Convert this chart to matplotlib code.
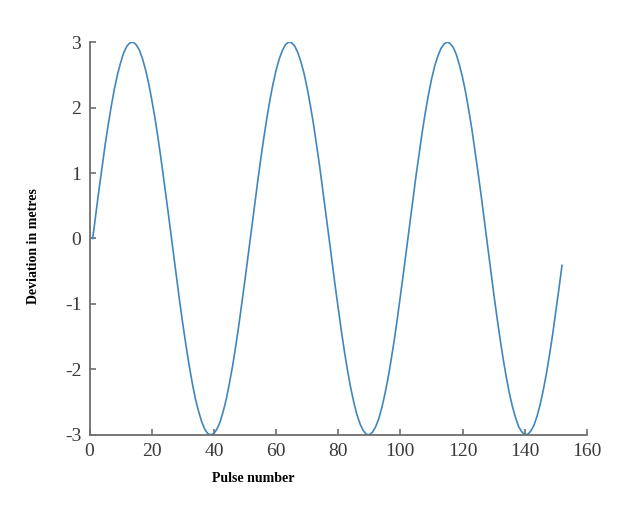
import numpy as np
import matplotlib
matplotlib.use("Agg")
import matplotlib.pyplot as plt

# pulse numbers and deviation (metres)
pulses = list(range(1, 153))
deviation = [
    0.00, 0.37, 0.74, 1.09, 1.43, 1.74, 2.03, 2.29, 2.51, 2.69,
    2.84, 2.94, 2.99, 3.00, 2.96, 2.88, 2.75, 2.58, 2.37, 2.12,
    1.85, 1.54, 1.21, 0.86, 0.50, 0.13, -0.24, -0.61, -0.97, -1.31,
    -1.63, -1.93, -2.20, -2.44, -2.63, -2.79, -2.91, -2.98, -3.00, -2.98,
    -2.91, -2.80, -2.64, -2.45, -2.21, -1.95, -1.65, -1.33, -0.98, -0.63,
    -0.26, 0.11, 0.48, 0.84, 1.19, 1.52, 1.83, 2.11, 2.36, 2.57,
    2.74, 2.87, 2.96, 3.00, 2.99, 2.94, 2.84, 2.70, 2.52, 2.30,
    2.04, 1.76, 1.44, 1.11, 0.75, 0.39, 0.02, -0.35, -0.72, -1.07,
    -1.41, -1.73, -2.02, -2.28, -2.50, -2.69, -2.83, -2.93, -2.99, -3.00,
    -2.96, -2.88, -2.76, -2.59, -2.38, -2.14, -1.86, -1.56, -1.23, -0.88,
    -0.52, -0.15, 0.22, 0.59, 0.95, 1.29, 1.62, 1.92, 2.19, 2.43,
    2.63, 2.78, 2.90, 2.97, 3.00, 2.98, 2.92, 2.81, 2.65, 2.46,
    2.23, 1.96, 1.67, 1.34, 1.00, 0.65, 0.28, -0.09, -0.46, -0.83,
    -1.18, -1.51, -1.82, -2.10, -2.35, -2.56, -2.73, -2.87, -2.95, -3.00,
    -2.99, -2.94, -2.85, -2.71, -2.53, -2.31, -2.06, -1.77, -1.46, -1.12,
    -0.77, -0.41,
]

xticks = [0, 20, 40, 60, 80, 100, 120, 140, 160]
yticks = [-3, -2, -1, 0, 1, 2, 3]

plt.rcParams['font.family'] = ['Liberation Serif', 'DejaVu Serif']

fig = plt.figure(figsize=(6.4, 5.14), dpi=100)
ax = fig.add_axes([0.14, 0.154, 0.777, 0.764])

ax.plot(pulses, deviation, color='#4286bd', linewidth=1.2)

ax.set_xlim(0, 160)
ax.set_ylim(-3, 3)
ax.set_xticks(xticks)
ax.set_yticks(yticks)
ax.set_xticklabels([str(t) for t in xticks])
ax.set_yticklabels([str(t) for t in yticks])

for side in ['top', 'right']:
    ax.spines[side].set_visible(False)
for side in ['left', 'bottom']:
    ax.spines[side].set_color('#6e6e6e')
    ax.spines[side].set_linewidth(1.3)

ax.tick_params(direction='in', length=4, width=1.2, color='#6e6e6e',
               labelsize=14, labelcolor='#3a3a3a', pad=6)

ax.set_xlabel('Pulse number', fontsize=10, fontweight='bold')
ax.set_ylabel('Deviation in metres', fontsize=10, fontweight='bold')
ax.xaxis.set_label_coords(0.33, -0.095)
ax.yaxis.set_label_coords(-0.10, 0.48)

fig.savefig('out.png', dpi=100)
